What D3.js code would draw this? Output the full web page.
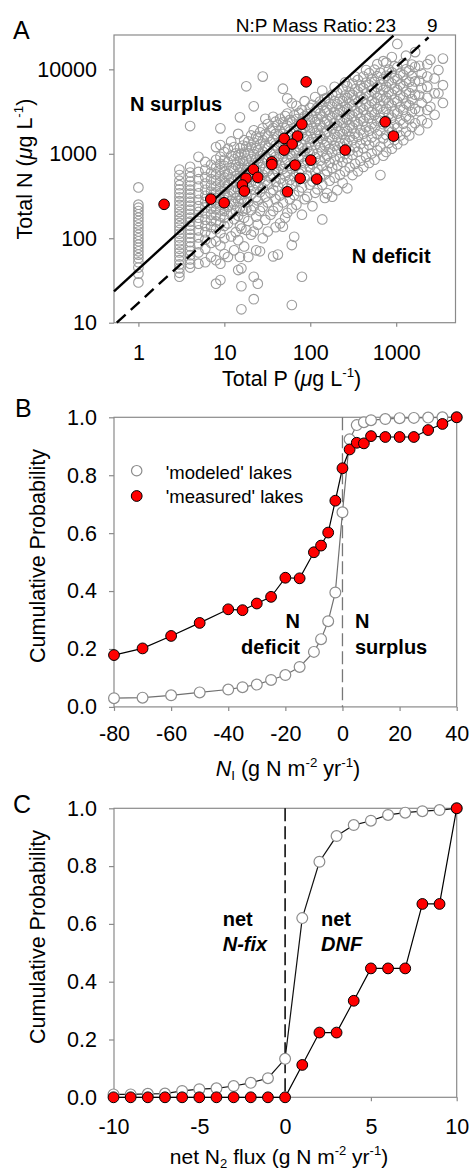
<!DOCTYPE html>
<html>
<head>
<meta charset="utf-8">
<script src="https://cdn.jsdelivr.net/npm/d3@7"></script>
<style>
  body { margin: 0; background: #fff; }
  svg text { font-family: "Liberation Sans", Arial, Helvetica, sans-serif; fill: #000; }
</style>
</head>
<body>
<svg id="fig" width="472" height="1172"></svg>
<script>
// ---- Panel A data: total P vs total N (ug/L) ----
// modeled lakes, grouped by total P value: [P, [N values]]
const modeledLakesA = [
  [1, [30, 38, 45, 52, 58, 64, 70, 77, 84, 92, 100, 110, 120, 132, 145, 160, 175, 192, 210, 230, 250, 400]],
  [3, [35, 39, 44, 49, 55, 61, 68, 75, 83, 92, 102, 113, 125, 138, 152, 168, 185, 204, 225, 248, 275, 305, 340, 380, 425, 480, 560, 650]],
  [4, [45, 50, 56, 63, 71, 80, 90, 101, 113, 126, 141, 157, 175, 195, 218, 243, 271, 302, 337, 376, 420, 470, 530, 600, 700, 2130]],
  [5, [50, 68, 85, 102, 124, 148, 175, 205, 240, 285, 340, 410, 500, 610, 920]],
  [6, [52, 75, 96, 118, 140, 166, 198, 232, 270, 318, 375, 445, 530, 650, 800]],
  [7, [60, 88, 112, 136, 162, 190, 224, 262, 305, 355, 420, 500, 600, 740]],
  [8, [29, 55, 92, 128, 158, 188, 220, 258, 300, 350, 410, 480, 570, 690, 850, 1200]],
  [9, [32, 50, 82, 115, 150, 182, 214, 250, 292, 340, 398, 465, 545, 640, 760, 920, 1270, 2000]],
  [10, [65, 100, 140, 175, 210, 245, 285, 330, 385, 450, 525, 615, 720, 850, 1050]],
  [11, [60, 150, 235, 320, 430, 580, 800, 1150]],
  [12, [105, 195, 275, 370, 500, 680, 950, 1400]],
  [13, [72, 168, 255, 350, 470, 630, 860, 1200]],
  [13.6, [118, 212, 300, 405, 545, 735, 1010]],
  [14.5, [42, 95, 185, 275, 380, 515, 700, 960, 1720]],
  [15.2, [60, 140, 230, 325, 442, 600, 820, 1160, 2700]],
  [15.8, [14.4, 27, 44, 130, 290, 460, 680, 1000]],
  [16.5, [210, 370, 560, 830, 1250]],
  [17, [80, 175, 280, 400, 550, 750, 1030, 1450]],
  [18, [125, 225, 340, 470, 640, 880, 1220, 6300]],
  [19, [60, 160, 270, 395, 545, 740, 1010, 1400]],
  [20.5, [110, 215, 330, 465, 635, 865, 1190, 1650]],
  [22, [19, 35, 120, 240, 375, 530, 725, 990, 1360, 1900, 3650]],
  [23.5, [72, 180, 305, 450, 620, 850, 1160, 1600]],
  [24.5, [29, 145, 280, 425, 595, 810, 1100, 1520]],
  [26, [70, 210, 350, 505, 695, 945, 1290, 1800]],
  [28, [100, 235, 390, 565, 780, 1060, 1450, 2000, 8200]],
  [30, [165, 310, 475, 665, 910, 1240, 1700, 2600]],
  [32, [120, 265, 430, 620, 855, 1170, 1600, 2250]],
  [34.5, [190, 345, 520, 730, 1000, 1370, 1880]],
  [37, [61, 210, 375, 560, 785, 1080, 1470, 2020, 2740]],
  [39.5, [135, 290, 465, 665, 920, 1260, 1720, 2400]],
  [42, [64, 235, 410, 610, 855, 1170, 1600, 2200]],
  [44.5, [150, 320, 505, 725, 1000, 1370, 1870, 2600]],
  [48, [137, 265, 450, 660, 925, 1260, 1710, 2350, 5900]],
  [51, [175, 355, 550, 785, 1080, 1470, 2000, 2800]],
  [54, [200, 390, 600, 850, 1170, 1580, 2150, 3000, 4530]],
  [58, [290, 490, 720, 1000, 1360, 1840, 2520]],
  [61, [16.2, 83, 225, 430, 660, 935, 1280, 1740, 2380, 3970]],
  [65, [104, 325, 540, 790, 1100, 1490, 2030, 2850]],
  [69, [250, 470, 720, 1020, 1400, 1900, 2580, 3700]],
  [74, [360, 590, 860, 1200, 1630, 2210, 3050]],
  [80, [35, 190, 400, 640, 925, 1280, 1740, 2370, 3300]],
  [86, [290, 515, 775, 1090, 1490, 2030, 2780, 4200]],
  [92, [310, 555, 835, 1170, 1600, 2160, 2950]],
  [99, [430, 690, 995, 1370, 1860, 2520, 3500]],
  [106, [240, 470, 750, 1085, 1500, 2040, 2760, 3800]],
  [114, [345, 605, 910, 1280, 1750, 2370, 3230, 4700]],
  [121, [380, 670, 1005, 1410, 1920, 2590, 3520]],
  [130, [520, 830, 1195, 1650, 2230, 3010, 4150]],
  [138, [167, 430, 720, 1065, 1490, 2030, 2750, 3750, 5600]],
  [148, [300, 570, 885, 1265, 1740, 2360, 3200, 4500]],
  [157, [340, 625, 950, 1340, 1830, 2460, 3320, 4600]],
  [168, [480, 780, 1135, 1570, 2120, 2860, 3880]],
  [180, [310, 680, 1035, 1465, 1995, 2680, 3600, 5000]],
  [192, [520, 850, 1240, 1715, 2310, 3100, 4200, 6200]],
  [206, [371, 730, 1110, 1570, 2140, 2870, 3850, 5300]],
  [221, [560, 910, 1330, 1840, 2480, 3320, 4480]],
  [238, [450, 800, 1210, 1710, 2330, 3130, 4200, 5800]],
  [254, [620, 995, 1450, 2000, 2700, 3620, 4900, 7000]],
  [270, [390, 880, 1320, 1860, 2540, 3400, 4560, 6300]],
  [288, [690, 1090, 1580, 2180, 2940, 3930, 5300]],
  [310, [560, 970, 1450, 2040, 2780, 3720, 4980, 6800]],
  [332, [760, 1200, 1730, 2390, 3220, 4300, 5800, 8200]],
  [358, [620, 1060, 1590, 2240, 3050, 4080, 5460, 7500]],
  [384, [830, 1310, 1900, 2620, 3530, 4720, 6350]],
  [415, [700, 1160, 1730, 2440, 3330, 4460, 5980, 8200]],
  [446, [920, 1430, 2070, 2860, 3860, 5160, 6950, 9800]],
  [484, [780, 1270, 1880, 2660, 3630, 4870, 6520, 9000]],
  [518, [1010, 1560, 2250, 3120, 4210, 5630, 7600]],
  [560, [850, 1380, 2050, 2890, 3950, 5300, 7100, 9900]],
  [602, [1100, 1700, 2450, 3390, 4580, 6130, 8300, 11500]],
  [655, [560, 1220, 1860, 2660, 3660, 4930, 6600, 9100]],
  [708, [950, 1520, 2240, 3130, 4250, 5700, 7700, 12500]],
  [765, [1050, 1670, 2450, 3420, 4650, 6240, 8400, 12000]],
  [820, [1340, 2040, 2910, 4000, 5390, 7230, 9900]],
  [890, [1150, 1820, 2670, 3730, 5070, 6810, 9200, 14000]],
  [955, [1460, 2220, 3170, 4360, 5880, 7900, 10900]],
  [1030, [1300, 2040, 2990, 4180, 5700, 7680, 10600, 20000]],
  [1110, [1650, 2490, 3550, 4890, 6620, 8950]],
  [1210, [1450, 2270, 3310, 4630, 6320, 8550, 11800]],
  [1300, [1830, 2760, 3930, 5420, 7350, 10000, 14500]],
  [1420, [1650, 2570, 3740, 5230, 7130, 9700]],
  [1520, [2080, 3120, 4440, 6120, 8300, 11400]],
  [1660, [2300, 3400, 5000, 7200, 10700, 16000]],
  [1850, [1900, 3200, 4900, 7300, 11000]],
  [1980, [2500, 4000, 6000, 8900]],
  [2300, [2300, 3300, 4600, 6200, 8200, 11500]],
  [2500, [3600, 13000]],
  [2800, [2900, 5200, 7800]],
  [3100, [5200, 9800]],
  [3500, [4000, 6500, 13400]]
]

// measured lakes: [P, N]
const measuredLakesA = [
  [89.6, 7110], [79.8, 2244], [745, 2390], [931, 1620], [49.7, 1520], [71, 1620],
  [61.5, 1303], [49.7, 1107], [255, 1107], [35.7, 803], [35.7, 748], [66.7, 735],
  [101.6, 841], [21.8, 653], [17.9, 512], [24.5, 526], [76.3, 512], [119, 502],
  [16.2, 427], [17.1, 362], [54.3, 355], [6.96, 291], [9.95, 263], [1.99, 252]
]

// N:P mass ratio reference lines, end points [P, N]
const ratio23Line = [[0.52, 23.5], [930, 25000]]
const ratio9Line = [[0.56, 10], [2380, 23900]]

const ticksPA = [1, 10, 100, 1000]
const ticksNA = [10, 100, 1000, 10000]

// ---- Panel B data: cumulative probability of N_I ----
const nInputB = [-80, -70, -60, -50, -40, -35, -30, -25, -20, -15, -10, -7.5, -5, -2.5, 0, 2.5, 5, 7.5, 10, 15, 20, 25, 30, 35, 40]
const modeledB = [0.03, 0.032, 0.04, 0.05, 0.06, 0.068, 0.077, 0.093, 0.11, 0.138, 0.19, 0.234, 0.296, 0.395, 0.672, 0.924, 0.973, 0.983, 0.99, 0.994, 0.997, 0.998, 0.999, 1.0, 1.0]
const measuredB = [0.179, 0.202, 0.245, 0.29, 0.337, 0.334, 0.357, 0.38, 0.446, 0.444, 0.534, 0.557, 0.602, 0.712, 0.824, 0.889, 0.912, 0.91, 0.935, 0.932, 0.932, 0.932, 0.956, 0.977, 1.0]
const ticksXB = [-80, -60, -40, -20, 0, 20, 40]

// ---- Panel C data: cumulative probability of net N2 flux ----
const n2FluxC = [-10, -9, -8, -7, -6, -5, -4, -3, -2, -1, 0, 1, 2, 3, 4, 5, 6, 7, 8, 9, 10]
const modeledC = [0.01, 0.01, 0.012, 0.013, 0.022, 0.028, 0.031, 0.039, 0.05, 0.066, 0.133, 0.62, 0.815, 0.904, 0.942, 0.957, 0.977, 0.985, 0.99, 0.994, 1.0]
const measuredC = [0, 0, 0, 0, 0, 0, 0, 0, 0, 0, 0, 0.112, 0.224, 0.224, 0.334, 0.446, 0.446, 0.446, 0.669, 0.669, 1.0]
const ticksXC = [-10, -5, 0, 5, 10]

const ticksProb = [0, 0.2, 0.4, 0.6, 0.8, 1.0]

// ---- drawing ----
const svg = d3.select('#fig')
const TICK_FONT = 21.5
const GREY = '#8a8a8a'

function frame(x0, x1, y0, y1) {
  svg.append('rect')
    .attr('x', x0).attr('y', y0)
    .attr('width', x1 - x0).attr('height', y1 - y0)
    .attr('fill', 'none').attr('stroke', GREY).attr('stroke-width', 1.2)
}

function styleAxis(sel) {
  sel.select('.domain').remove()
  sel.selectAll('.tick line').attr('stroke', GREY).attr('stroke-width', 1.2)
  sel.selectAll('.tick text').attr('font-size', TICK_FONT).attr('fill', '#000')
    .attr('font-family', '"Liberation Sans", Arial, sans-serif')
}

// text with super/subscript and italic parts: [[string, kind], ...]
function richText(parts, size) {
  const t = svg.append('text').attr('font-size', size)
  let shift = 0
  parts.forEach(([s, kind]) => {
    const ts = t.append('tspan').text(s)
    let target = 0
    if (kind === 'sup') { ts.attr('font-size', size * 0.62); target = -size * 0.42 }
    if (kind === 'sub') { ts.attr('font-size', size * 0.62); target = size * 0.2 }
    if (kind === 'i') ts.attr('font-style', 'italic')
    if (target !== shift) { ts.attr('dy', target - shift); shift = target }
  })
  return t
}

function label(x, y, s, size, opts = {}) {
  return svg.append('text')
    .attr('x', x).attr('y', y)
    .attr('font-size', size)
    .attr('font-weight', opts.bold ? 'bold' : null)
    .attr('font-style', opts.italic ? 'italic' : null)
    .attr('text-anchor', opts.anchor || 'start')
    .text(s)
}

const probFmt = d3.format('.1f')

// ===== Panel A =====
const xA = d3.scaleLog().domain([0.52, 4900]).range([114, 455.5])
const yA = d3.scaleLog().domain([10, 25500]).range([322.7, 35])

frame(114, 455.5, 35, 322.7)

svg.append('g').attr('transform', 'translate(0,322.7)')
  .call(d3.axisBottom(xA).tickValues(ticksPA).tickFormat(d3.format('d')).tickSize(4).tickPadding(18.4))
  .call(styleAxis)
svg.append('g').attr('transform', 'translate(114,0)')
  .call(d3.axisLeft(yA).tickValues(ticksNA).tickFormat(d3.format('d')).tickSize(5).tickPadding(12))
  .call(styleAxis)

const greyPts = modeledLakesA.flatMap(([p, ns]) => ns.map(n => [p, n]))
svg.append('g').selectAll('circle').data(greyPts).join('circle')
  .attr('cx', d => xA(d[0])).attr('cy', d => yA(d[1])).attr('r', 4.8)
  .attr('fill', 'none').attr('stroke', '#9c9c9c').attr('stroke-width', 1.1)

const lineA = d3.line().x(d => xA(d[0])).y(d => yA(d[1]))
svg.append('path').datum(ratio23Line).attr('d', lineA)
  .attr('fill', 'none').attr('stroke', '#000').attr('stroke-width', 2.4)
svg.append('path').datum(ratio9Line).attr('d', lineA)
  .attr('fill', 'none').attr('stroke', '#000').attr('stroke-width', 2.4).attr('stroke-dasharray', '12,7')

svg.append('g').selectAll('circle').data(measuredLakesA).join('circle')
  .attr('cx', d => xA(d[0])).attr('cy', d => yA(d[1])).attr('r', 5.3)
  .attr('fill', '#ff0000').attr('stroke', '#000').attr('stroke-width', 1)

label(13, 38.5, 'A', 25)
label(372.7, 32.3, 'N:P Mass Ratio:', 19, { anchor: 'end' })
label(375, 32.3, '23', 19)
label(432.3, 32.3, '9', 19, { anchor: 'middle' })
label(130, 111, 'N surplus', 20, { bold: true })
label(351.7, 263.3, 'N deficit', 20, { bold: true })

richText([['Total N ('], ['μ', 'i'], ['g L'], ['-1', 'sup'], [')']], 21.5)
  .attr('text-anchor', 'middle').attr('transform', 'translate(32,169) rotate(-90)')
richText([['Total P ('], ['μ', 'i'], ['g L'], ['-1', 'sup'], [')']], 21.5)
  .attr('text-anchor', 'middle').attr('x', 291.7).attr('y', 386)

// ===== Panel B =====
const xB = d3.scaleLinear().domain([-80, 40]).range([114, 456.7])
const yB = d3.scaleLinear().domain([0, 1]).range([706.9, 417.3])

frame(114, 456.7, 417.3, 706.9)
svg.append('g').attr('transform', 'translate(0,706.9)')
  .call(d3.axisBottom(xB).tickValues(ticksXB).tickFormat(d => String(d)).tickSize(4).tickPadding(14.7))
  .call(styleAxis)
svg.append('g').attr('transform', 'translate(114,0)')
  .call(d3.axisLeft(yB).tickValues(ticksProb).tickFormat(probFmt).tickSize(5).tickPadding(12))
  .call(styleAxis)

svg.append('line')
  .attr('x1', xB(0)).attr('x2', xB(0)).attr('y1', yB(1)).attr('y2', yB(0))
  .attr('stroke', '#777').attr('stroke-width', 1.3).attr('stroke-dasharray', '13,5')

function cdfSeries(xs, ys, xS, yS, lineColor, open) {
  const pts = xs.map((x, i) => [x, ys[i]])
  svg.append('path').datum(pts)
    .attr('d', d3.line().x(d => xS(d[0])).y(d => yS(d[1])))
    .attr('fill', 'none').attr('stroke', lineColor).attr('stroke-width', 1.2)
  svg.append('g').selectAll('circle').data(pts).join('circle')
    .attr('cx', d => xS(d[0])).attr('cy', d => yS(d[1])).attr('r', 5.4)
    .attr('fill', open ? '#fff' : '#ff0000')
    .attr('stroke', open ? '#8c8c8c' : '#000').attr('stroke-width', open ? 1.2 : 1)
}

cdfSeries(nInputB, modeledB, xB, yB, '#707070', true)
cdfSeries(nInputB, measuredB, xB, yB, '#000', false)

// legend
svg.append('circle').attr('cx', 136.7).attr('cy', 470.7).attr('r', 5.2)
  .attr('fill', '#fff').attr('stroke', '#8c8c8c').attr('stroke-width', 1.2)
svg.append('circle').attr('cx', 136.7).attr('cy', 496).attr('r', 5.4)
  .attr('fill', '#ff0000').attr('stroke', '#000').attr('stroke-width', 1)
label(165.7, 479.3, "'modeled' lakes", 18.5)
label(165.7, 502.7, "'measured' lakes", 18.5)

label(15, 416.7, 'B', 25)
label(300, 628.3, 'N', 20, { bold: true, anchor: 'end' })
label(300, 654, 'deficit', 20, { bold: true, anchor: 'end' })
label(355, 628.3, 'N', 20, { bold: true })
label(355, 654, 'surplus', 20, { bold: true })

richText([['Cumulative Probability']], 21.5)
  .attr('text-anchor', 'middle').attr('transform', 'translate(45,556) rotate(-90)')
richText([['N', 'i'], ['I', 'sub'], [' (g N m'], ['-2', 'sup'], [' yr'], ['-1', 'sup'], [')']], 21.5)
  .attr('text-anchor', 'middle').attr('x', 288).attr('y', 776)

// ===== Panel C =====
const xC = d3.scaleLinear().domain([-10, 10]).range([113.5, 456.7])
const yC = d3.scaleLinear().domain([0, 1]).range([1097.3, 808.3])

frame(114, 456.7, 808.3, 1097.3)
svg.append('g').attr('transform', 'translate(0,1097.3)')
  .call(d3.axisBottom(xC).tickValues(ticksXC).tickFormat(d => String(d)).tickSize(4).tickPadding(17.1))
  .call(styleAxis)
svg.append('g').attr('transform', 'translate(114,0)')
  .call(d3.axisLeft(yC).tickValues(ticksProb).tickFormat(probFmt).tickSize(5).tickPadding(12))
  .call(styleAxis)

svg.append('line')
  .attr('x1', xC(0)).attr('x2', xC(0)).attr('y1', yC(1)).attr('y2', yC(0))
  .attr('stroke', '#000').attr('stroke-width', 1.5).attr('stroke-dasharray', '13,5')

cdfSeries(n2FluxC, modeledC, xC, yC, '#111', true)
cdfSeries(n2FluxC, measuredC, xC, yC, '#000', false)

label(13, 813, 'C', 25)
label(222.7, 926, 'net', 20, { bold: true })
label(222.7, 951, 'N-fix', 20, { bold: true, italic: true })
label(321, 926, 'net', 20, { bold: true })
label(321, 951, 'DNF', 20, { bold: true, italic: true })

richText([['Cumulative Probability']], 21.5)
  .attr('text-anchor', 'middle').attr('transform', 'translate(45,937) rotate(-90)')
richText([['net N'], ['2', 'sub'], [' flux (g N m'], ['-2', 'sup'], [' yr'], ['-1', 'sup'], [')']], 21)
  .attr('text-anchor', 'middle').attr('x', 279).attr('y', 1164)
</script>
</body>
</html>
